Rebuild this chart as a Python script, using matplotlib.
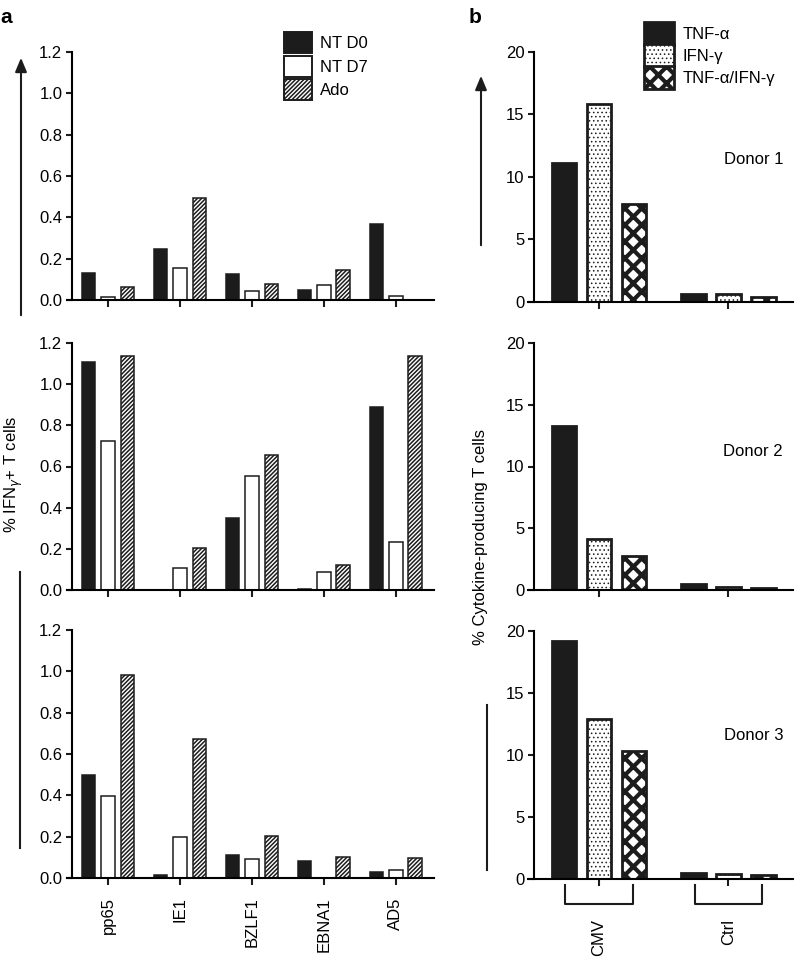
import numpy as np
import matplotlib
matplotlib.use('Agg')
import matplotlib.pyplot as plt
from matplotlib.patches import Patch, FancyArrowPatch
from matplotlib.lines import Line2D
import matplotlib.transforms as mtransforms

plt.rcParams['font.family'] = ['Liberation Sans', 'DejaVu Sans']
plt.rcParams['font.size'] = 11.5

# panel a data (% IFNg+ T cells), one row per donor
antigens = ['pp65', 'IE1', 'BZLF1', 'EBNA1', 'AD5']
series_a = ['NT D0', 'NT D7', 'Ado']
a_d1_d0 = [0.13, 0.247, 0.126, 0.047, 0.368]
a_d1_d7 = [0.016, 0.156, 0.044, 0.073, 0.02]
a_d1_ado = [0.061, 0.495, 0.077, 0.145, 0.0]
a_d2_d0 = [1.11, 0.0, 0.348, 0.006, 0.889]
a_d2_d7 = [0.723, 0.105, 0.553, 0.086, 0.234]
a_d2_ado = [1.135, 0.202, 0.655, 0.121, 1.135]
a_d3_d0 = [0.50, 0.015, 0.11, 0.081, 0.029]
a_d3_d7 = [0.397, 0.196, 0.092, 0.0, 0.04]
a_d3_ado = [0.982, 0.672, 0.202, 0.10, 0.099]

# panel b data (% cytokine-producing T cells)
groups_b = ['CMV', 'Ctrl']
series_b = ['TNF-α', 'IFN-γ', 'TNF-α/IFN-γ']
donors = ['Donor 1', 'Donor 2', 'Donor 3']
b_d1_tnf = [11.15, 0.6]
b_d1_ifn = [15.8, 0.6]
b_d1_both = [7.8, 0.38]
b_d2_tnf = [13.26, 0.45]
b_d2_ifn = [4.12, 0.25]
b_d2_both = [2.77, 0.17]
b_d3_tnf = [19.22, 0.5]
b_d3_ifn = [12.94, 0.4]
b_d3_both = [10.33, 0.32]

W, H = 795, 958
BLACK = '#1c1c1c'

def fx(px):
    return px / W

def fy(py):
    return 1 - py / H

def rect(left, right, top, bottom):
    return [fx(left), fy(bottom), (right - left) / W, (bottom - top) / H]

# style of each series: face, hatch, hatch linewidth
style_a = [(BLACK, None, 1.0), ('white', None, 1.0), ('white', '////////', 1.1)]
style_b = [(BLACK, None, 1.0), ('white', '....', 0.6), ('white', 'xx', 3.0)]

def draw_bars(ax, vals, styles, width, off, lw):
    x = np.arange(len(vals[0]))
    for i, v in enumerate(vals):
        fc, hatch, hlw = styles[i]
        with plt.rc_context({'hatch.linewidth': hlw}):
            bars = ax.bar(x + (i - 1) * off, v, width, color=fc, edgecolor=BLACK,
                          linewidth=lw, hatch=hatch)
        for b in bars:
            if hasattr(b, 'set_hatch_linewidth'):
                b.set_hatch_linewidth(hlw)

def style_ax(ax, xlim, ylim, yticks, fmt, labels=None):
    ax.set_xlim(*xlim)
    ax.set_ylim(*ylim)
    for s in ['top', 'right']:
        ax.spines[s].set_visible(False)
    ax.spines['left'].set_position(('data', -0.5))
    ax.spines['left'].set_linewidth(1.5)
    ax.spines['bottom'].set_linewidth(1.5)
    ax.set_yticks(yticks)
    ax.set_yticklabels([fmt % t for t in yticks], fontsize=12)
    ax.tick_params(axis='y', length=4, width=1.5, pad=3, color=BLACK)
    ax.tick_params(axis='x', length=5, width=1.5, color=BLACK)
    if labels is None:
        ax.set_xticklabels([])

fig = plt.figure(figsize=(W / 100, H / 100), dpi=100)

a_rows = [(52, 300), (343, 590), (630, 878)]
a_vals = [[a_d1_d0, a_d1_d7, a_d1_ado],
          [a_d2_d0, a_d2_d7, a_d2_ado],
          [a_d3_d0, a_d3_d7, a_d3_ado]]
axes_a = []
for r, (top, bot) in enumerate(a_rows):
    ax = fig.add_axes(rect(67, 434, top, bot))
    draw_bars(ax, a_vals[r], style_a, 0.19, 0.27, 1.1)
    ax.set_xticks(np.arange(len(antigens)))
    last = r == 2
    style_ax(ax, (-0.57, 4.53), (0, 1.2), [0, 0.2, 0.4, 0.6, 0.8, 1.0, 1.2], '%.1f',
             antigens if last else None)
    if last:
        ax.set_xticklabels(antigens, rotation=90, fontsize=12)
        ax.tick_params(axis='x', pad=9)
    axes_a.append(ax)

b_rows = [(52, 302), (343, 590), (631, 879)]
b_vals = [[b_d1_tnf, b_d1_ifn, b_d1_both],
          [b_d2_tnf, b_d2_ifn, b_d2_both],
          [b_d3_tnf, b_d3_ifn, b_d3_both]]
donor_y = [160, 452, 735]
axes_b = []
for r, (top, bot) in enumerate(b_rows):
    ax = fig.add_axes(rect(528, 793, top, bot))
    draw_bars(ax, b_vals[r], style_b, 0.19, 0.27, 2.0)
    ax.set_xticks(np.arange(len(groups_b)))
    last = r == 2
    style_ax(ax, (-0.55, 1.5), (0, 20), [0, 5, 10, 15, 20], '%d',
             groups_b if last else None)
    if last:
        ax.set_xticklabels(groups_b, rotation=90, fontsize=12)
        ax.tick_params(axis='x', pad=24)
        trans = mtransforms.blended_transform_factory(ax.transData, ax.transAxes)
        for g in range(len(groups_b)):
            ax.plot([g - 0.26, g - 0.26, g + 0.26, g + 0.26], [-0.024, -0.1, -0.1, -0.024],
                    color=BLACK, lw=1.5, transform=trans, clip_on=False)
    fig.text(fx(783), fy(donor_y[r]), donors[r], ha='right', va='center', fontsize=12)
    axes_b.append(ax)

# legends
def make_handles(styles, names, lw):
    hs = []
    for (fc, hatch, hlw), n in zip(styles, names):
        with plt.rc_context({'hatch.linewidth': hlw}):
            p = Patch(facecolor=fc, edgecolor=BLACK, hatch=hatch, linewidth=lw, label=n)
        hs.append(p)
    return hs

leg_a = axes_a[0].legend(handles=make_handles(style_a, series_a, 1.4), loc='upper left',
                         bbox_to_anchor=(fx(284), fy(32)), bbox_transform=fig.transFigure,
                         frameon=False, borderpad=0, borderaxespad=0, handlelength=1.7,
                         handleheight=1.55, labelspacing=0.17, handletextpad=0.45,
                         fontsize=12)
leg_b = axes_b[0].legend(handles=make_handles(style_b, series_b, 2.0), loc='upper left',
                         bbox_to_anchor=(fx(644), fy(22)), bbox_transform=fig.transFigure,
                         frameon=False, borderpad=0, borderaxespad=0, handlelength=1.8,
                         handleheight=1.75, labelspacing=-0.05, handletextpad=0.5,
                         fontsize=12)
for leg, st in ((leg_a, style_a), (leg_b, style_b)):
    for p, s in zip(leg.get_patches(), st):
        if hasattr(p, 'set_hatch_linewidth'):
            p.set_hatch_linewidth(s[2])

# axis labels
fig.text(fx(14), fy(474), '% IFN$_{\\gamma}$+ T cells', rotation=90, ha='center', va='center',
         fontsize=12)
fig.text(fx(480), fy(537), '% Cytokine-producing T cells', rotation=90, ha='center',
         va='center', fontsize=12)

# panel letters
fig.text(fx(0), fy(23), 'a', fontsize=15, fontweight='bold', ha='left', va='baseline')
fig.text(fx(469), fy(23), 'b', fontsize=15, fontweight='bold', ha='left', va='baseline')

# arrows and lines at the side
for (x, y0, y1) in [(21, 318, 55), (481, 248, 73)]:
    fig.add_artist(FancyArrowPatch((fx(x), fy(y0)), (fx(x), fy(y1)), transform=fig.transFigure,
                                   arrowstyle='-|>,head_length=0.6,head_width=0.25',
                                   mutation_scale=14, lw=1.5, color=BLACK))
for (x, y0, y1) in [(20, 572, 848), (487, 705, 870)]:
    fig.add_artist(Line2D([fx(x), fx(x)], [fy(y0), fy(y1)], transform=fig.transFigure,
                          lw=1.5, color=BLACK))

fig.savefig('out.png', dpi=100)
